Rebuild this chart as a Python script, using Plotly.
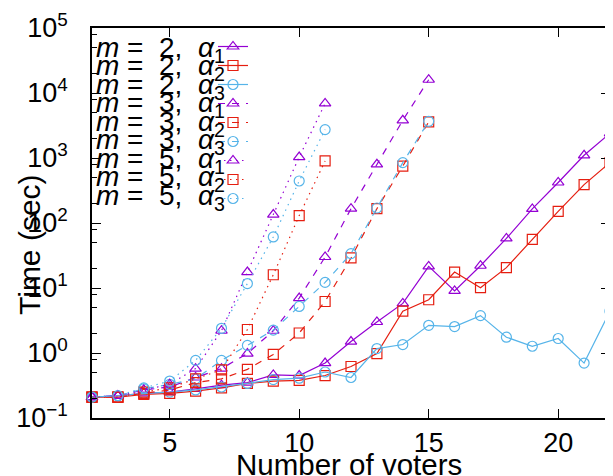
import plotly.graph_objects as go

# ---------------- data ----------------
voters_m2 = [2, 3, 4, 5, 6, 7, 8, 9, 10, 11, 12, 13, 14, 15, 16, 17, 18, 19, 20, 21, 22]
voters_m3 = [2, 3, 4, 5, 6, 7, 8, 9, 10, 11, 12, 13, 14, 15]
voters_m5 = [2, 3, 4, 5, 6, 7, 8, 9, 10, 11]

m2_a1 = [0.21, 0.22, 0.24, 0.25, 0.28, 0.32, 0.35, 0.46, 0.45, 0.70, 1.5, 3.0, 5.8, 21.5, 9.0, 22, 58, 165, 420, 1100, 2400]
m2_a2 = [0.21, 0.21, 0.23, 0.24, 0.26, 0.29, 0.34, 0.37, 0.38, 0.45, 0.62, 0.98, 4.4, 6.6, 17.6, 10.1, 20.6, 56, 151, 390, 850]
m2_a3 = [0.21, 0.22, 0.24, 0.25, 0.27, 0.30, 0.34, 0.39, 0.41, 0.51, 0.42, 1.17, 1.35, 2.67, 2.55, 3.76, 1.75, 1.27, 1.67, 0.70, 4.4]

m3_a1 = [0.21, 0.22, 0.27, 0.30, 0.42, 0.575, 0.98, 2.2, 7.0, 30, 166, 800, 3800, 16000]
m3_a2 = [0.21, 0.21, 0.24, 0.27, 0.35, 0.40, 0.56, 0.95, 2.03, 6.2, 29, 166, 750, 3600]
m3_a3 = [0.21, 0.22, 0.28, 0.33, 0.40, 0.77, 1.31, 2.25, 5.2, 12.2, 33.8, 170, 850, 3670]

m5_a1 = [0.21, 0.22, 0.27, 0.33, 0.575, 2.2, 17.6, 135, 1035, 6900]
m5_a2 = [0.21, 0.21, 0.25, 0.29, 0.40, 0.55, 2.3, 16, 130, 900]
m5_a3 = [0.21, 0.22, 0.29, 0.37, 0.77, 2.4, 11.7, 61, 443, 2735]

NB = "\u00a0"
labels = [
    f"<i>m</i> ={NB} 2,{NB} <i>α</i><sub>1</sub>",
    f"<i>m</i> ={NB} 2,{NB} <i>α</i><sub>2</sub>",
    f"<i>m</i> ={NB} 2,{NB} <i>α</i><sub>3</sub>",
    f"<i>m</i> ={NB} 3,{NB} <i>α</i><sub>1</sub>",
    f"<i>m</i> ={NB} 3,{NB} <i>α</i><sub>2</sub>",
    f"<i>m</i> ={NB} 3,{NB} <i>α</i><sub>3</sub>",
    f"<i>m</i> ={NB} 5,{NB} <i>α</i><sub>1</sub>",
    f"<i>m</i> ={NB} 5,{NB} <i>α</i><sub>2</sub>",
    f"<i>m</i> ={NB} 5,{NB} <i>α</i><sub>3</sub>",
]

x_ticks = [5, 10, 15, 20]
y_ticks = [0.1, 1, 10, 100, 1000, 10000, 100000]
y_ticktext = ["10<sup>−1</sup>", "10<sup>0</sup>", "10<sup>1</sup>", "10<sup>2</sup>",
              "10<sup>3</sup>", "10<sup>4</sup>", "10<sup>5</sup>"]
y_minor = [0.2, 0.5, 0.8, 2, 5, 8, 20, 50, 80, 200, 500, 800,
           2000, 5000, 8000, 20000, 50000, 80000]

x_title = "Number of voters"
y_title = "Time (sec)"

# ---------------- styles ----------------
PURPLE = "#9400D3"
RED = "#E51E10"
BLUE = "#56B4E9"
FONT = "Liberation Sans, Arial, sans-serif"

series = [
    (voters_m2, m2_a1, PURPLE, "triangle-up-open", "solid"),
    (voters_m2, m2_a2, RED, "square-open", "solid"),
    (voters_m2, m2_a3, BLUE, "circle-open", "solid"),
    (voters_m3, m3_a1, PURPLE, "triangle-up-open", "7px,7px"),
    (voters_m3, m3_a2, RED, "square-open", "7px,7px"),
    (voters_m3, m3_a3, BLUE, "circle-open", "7px,7px"),
    (voters_m5, m5_a1, PURPLE, "triangle-up-open", "1.5px,4.5px"),
    (voters_m5, m5_a2, RED, "square-open", "1.5px,4.5px"),
    (voters_m5, m5_a3, BLUE, "circle-open", "1.5px,4.5px"),
]

fig = go.Figure()
for xs, ys, col, sym, dash in series:
    fig.add_trace(go.Scatter(
        x=xs, y=ys, mode="lines+markers", name="",
        line=dict(color=col, width=1.2, dash=dash),
        marker=dict(symbol=sym, size=10, color=col, line=dict(width=1.2, color=col)),
        cliponaxis=False,
    ))

# page is rendered with an 8px body margin
OFF = 8
W, H = 605, 468
ML, MR, MT, MB = 84, 3, 20, 58
PW, PH = W - ML - MR, H - MT - MB

def px_x(p):
    return (p - OFF - ML) / PW

def px_y(p):
    return 1 - (p - OFF - MT) / PH

annotations = []
for i, lab in enumerate(labels):
    annotations.append(dict(
        text=lab, xref="paper", yref="paper", x=px_x(94), y=px_y(49 + 18.5 * i),
        xanchor="left", yanchor="middle", showarrow=False,
        font=dict(family=FONT, size=28, color="black"),
    ))
annotations.append(dict(
    text=x_title, xref="paper", yref="paper", x=px_x(349), y=px_y(464),
    xanchor="center", yanchor="middle", showarrow=False,
    font=dict(family=FONT, size=29.5, color="black"),
))
annotations.append(dict(
    text=y_title, xref="paper", yref="paper", x=px_x(29), y=px_y(245),
    xanchor="center", yanchor="middle", showarrow=False, textangle=-90,
    font=dict(family=FONT, size=30, color="black"),
))

fig.update_layout(
    width=W, height=H,
    margin=dict(l=ML, r=MR, t=MT, b=MB, pad=0, autoexpand=False),
    paper_bgcolor="white", plot_bgcolor="white",
    font=dict(family=FONT, size=27, color="black"),
    showlegend=True,
    legend=dict(
        x=px_x(213), y=px_y(32), xanchor="left", yanchor="top",
        bgcolor="rgba(0,0,0,0)", borderwidth=0, font=dict(size=11),
        tracegroupgap=0, itemwidth=30,
    ),
    annotations=annotations,
    xaxis=dict(
        range=[2, 22], tickmode="array", tickvals=x_ticks, ticks="inside", ticklen=9,
        tickwidth=1, tickcolor="black", showline=True, linecolor="black", linewidth=1.5,
        mirror="allticks", showgrid=False, zeroline=False, ticklabelstandoff=0,
        tickfont=dict(family=FONT, size=27), automargin=False,
    ),
    yaxis=dict(
        type="log", range=[-1, 5], tickmode="array", tickvals=y_ticks, ticktext=y_ticktext,
        ticks="inside", ticklen=9, tickwidth=1, tickcolor="black",
        showline=True, linecolor="black", linewidth=1.5, mirror="allticks",
        showgrid=False, zeroline=False, ticklabelstandoff=17,
        tickfont=dict(family=FONT, size=27), automargin=False,
        minor=dict(
            tickmode="array", tickvals=y_minor,
            ticks="inside", ticklen=5, tickwidth=1, tickcolor="black", showgrid=False,
        ),
    ),
)

fig.write_html("out.html")
